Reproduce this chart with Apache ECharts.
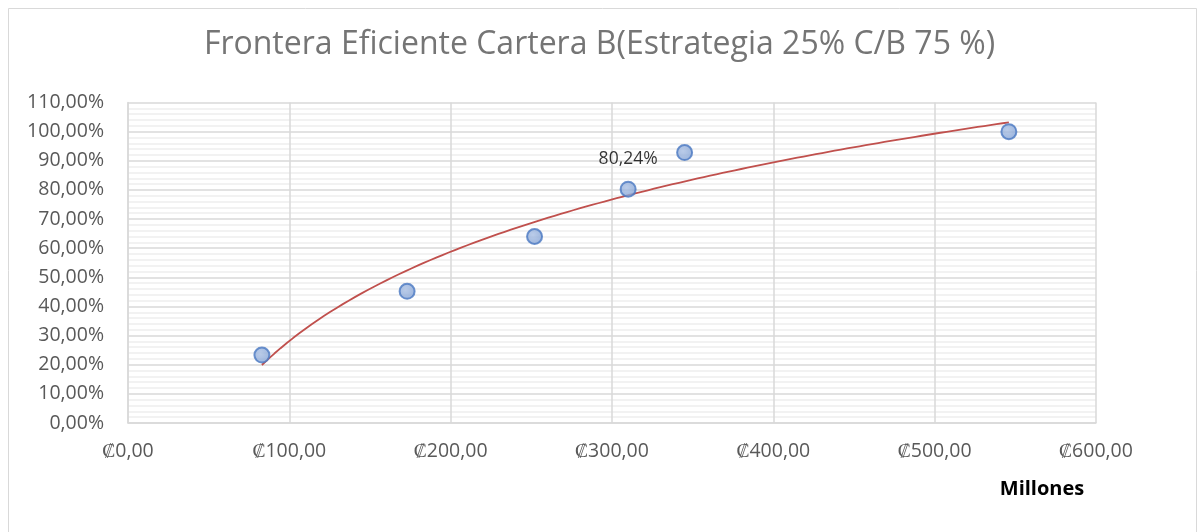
<!DOCTYPE html>
<html>
<head>
<meta charset="utf-8">
<script src="https://cdn.jsdelivr.net/npm/echarts@6/dist/echarts.min.js"></script>
<style>
html,body{margin:0;padding:0;background:#fff;}
#chart{width:1199px;height:532px;}
</style>
</head>
<body>
<div id="chart"></div>
<script>
// Portfolio points: amount (millions of colones) vs. return (%)
const montos = [83, 173, 252, 310, 345, 546];
const rendimientos = [23.3, 45.2, 64.0, 80.24, 92.8, 100.0];
const etiquetaIndice = 3; // point whose value is labelled
const xTicks = [0, 100, 200, 300, 400, 500, 600];
const yTicks = [0, 10, 20, 30, 40, 50, 60, 70, 80, 90, 100, 110];

// Logarithmic trendline y = a*ln(x) + b, least squares on the points
function ajusteLog(xs, ys) {
  const lx = xs.map(Math.log);
  const n = xs.length;
  const mx = lx.reduce((s, v) => s + v, 0) / n;
  const my = ys.reduce((s, v) => s + v, 0) / n;
  let sxy = 0, sxx = 0;
  for (let i = 0; i < n; i++) {
    sxy += (lx[i] - mx) * (ys[i] - my);
    sxx += (lx[i] - mx) * (lx[i] - mx);
  }
  const a = sxy / sxx;
  return { a: a, b: my - a * mx };
}
const fit = ajusteLog(montos, rendimientos);
const xmin = Math.min.apply(null, montos), xmax = Math.max.apply(null, montos);
const tendencia = [];
for (let i = 0; i <= 120; i++) {
  const x = xmin + (xmax - xmin) * i / 120;
  tendencia.push([x, fit.a * Math.log(x) + fit.b]);
}

const fmtPct = v => v.toFixed(2).replace('.', ',') + '%';
const fmtCol = v => '\u20A1' + v.toFixed(2).replace('.', ',');

const chart = echarts.init(document.getElementById('chart'), null, { renderer: 'canvas' });
chart.setOption({
  animation: false,
  backgroundColor: '#ffffff',
  textStyle: { fontFamily: 'Open Sans' },
  graphic: [{
    type: 'rect', left: 6, top: 6,
    shape: { width: 1188, height: 524 },
    style: { fill: 'none', stroke: '#d9d9d9', lineWidth: 1 },
    silent: true, z: -10
  }],
  title: {
    text: 'Frontera Eficiente Cartera B(Estrategia 25% C/B 75 %)',
    left: 'center', top: 24,
    textStyle: { fontFamily: 'Open Sans', fontWeight: 'normal', fontSize: 32, color: '#757575' }
  },
  grid: { left: 128, right: 103, top: 102.5, bottom: 109, containLabel: false },
  xAxis: {
    type: 'value', min: 0, max: 600, interval: 100,
    name: 'Millones', nameLocation: 'end',
    nameGap: 0,
    nameTextStyle: { fontFamily: 'Open Sans', fontWeight: 'bold', fontSize: 20, color: '#000',
      align: 'center', verticalAlign: 'top', padding: [56, 0, 0, -108] },
    axisLine: { show: true, lineStyle: { color: '#d9d9d9', width: 1.5 } },
    axisTick: { show: false },
    axisLabel: { formatter: fmtCol, color: '#595959', fontSize: 19.5, margin: 18 },
    splitLine: { show: true, lineStyle: { color: '#d9d9d9', width: 1.5 } }
  },
  yAxis: {
    type: 'value', min: 0, max: 110, interval: 10,
    axisLine: { show: true, lineStyle: { color: '#d9d9d9', width: 1.5 } },
    axisTick: { show: false },
    axisLabel: { formatter: fmtPct, color: '#595959', fontSize: 19.5, margin: 24 },
    splitLine: { show: true, lineStyle: { color: '#d9d9d9', width: 1.5 } },
    minorTick: { show: false, splitNumber: 5 },
    minorSplitLine: { show: true, lineStyle: { color: '#eeeeee', width: 1.5 } }
  },
  series: [
    {
      type: 'line', data: tendencia, showSymbol: false, symbol: 'none',
      lineStyle: { color: '#c0504d', width: 1.8 }, z: 2, silent: true
    },
    {
      type: 'scatter', symbolSize: 15, z: 3,
      data: montos.map((x, i) => ({
        value: [x, rendimientos[i]],
        label: i === etiquetaIndice ? {
          show: true, position: 'top', distance: 13,
          formatter: p => fmtPct(p.value[1]),
          color: '#000', fontSize: 17.5, fontFamily: 'Open Sans'
        } : { show: false }
      })),
      itemStyle: {
        color: new echarts.graphic.RadialGradient(0.4, 0.4, 0.7, [
          { offset: 0, color: '#a9bfe3' },
          { offset: 1, color: '#7f9fd3' }
        ]),
        borderColor: '#4a78c2', borderWidth: 2
      }
    }
  ]
});
</script>
</body>
</html>
